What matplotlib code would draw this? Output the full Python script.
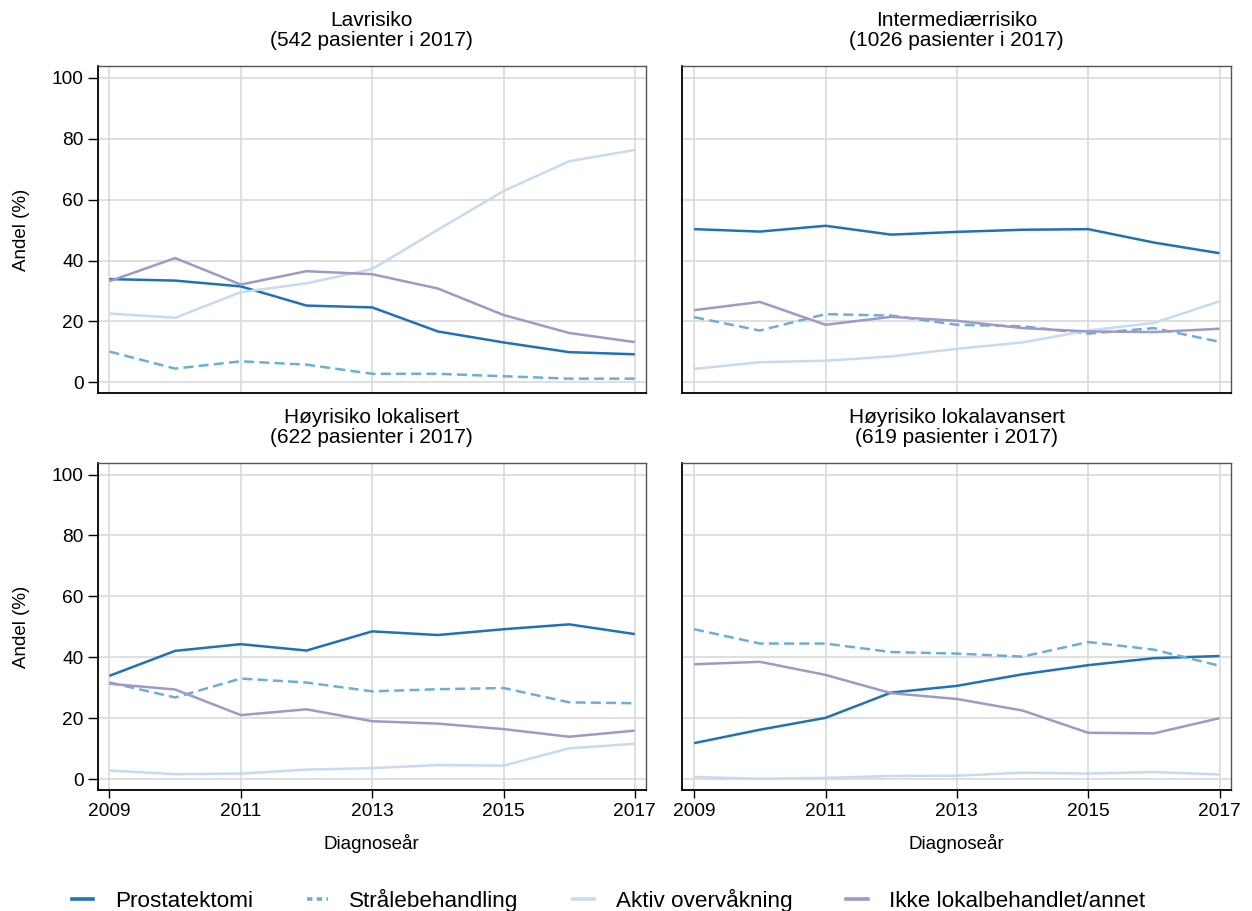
import matplotlib
matplotlib.use("Agg")
import matplotlib.pyplot as plt
from matplotlib.lines import Line2D

plt.rcParams['font.family'] = ['Liberation Sans', 'DejaVu Sans']

years = [2009, 2010, 2011, 2012, 2013, 2014, 2015, 2016, 2017]

treatments = ["Prostatektomi", "Strålebehandling", "Aktiv overvåkning",
              "Ikke lokalbehandlet/annet"]

panel_titles = [
    "Lavrisiko\n(542 pasienter i 2017)",
    "Intermediærrisiko\n(1026 pasienter i 2017)",
    "Høyrisiko lokalisert\n(622 pasienter i 2017)",
    "Høyrisiko lokalavansert\n(619 pasienter i 2017)",
]

# Share (%) per treatment, one list per risk group
lav_prostatektomi = [33.9, 33.4, 31.5, 25.2, 24.6, 16.7, 13.1, 9.9, 9.2]
lav_straale = [10.1, 4.5, 6.9, 5.8, 2.8, 2.8, 2.0, 1.2, 1.2]
lav_aktiv = [22.6, 21.2, 29.6, 32.5, 37.2, 50.1, 62.8, 72.6, 76.3]
lav_ikke = [33.2, 40.8, 32.1, 36.5, 35.5, 30.8, 22.1, 16.2, 13.2]

int_prostatektomi = [50.3, 49.5, 51.4, 48.5, 49.4, 50.1, 50.3, 45.9, 42.4]
int_straale = [21.4, 17.0, 22.4, 21.9, 18.9, 18.4, 16.0, 17.8, 13.3]
int_aktiv = [4.4, 6.6, 7.1, 8.5, 11.0, 13.1, 17.0, 19.5, 26.6]
int_ikke = [23.7, 26.4, 18.9, 21.5, 20.2, 17.8, 16.7, 16.5, 17.6]

hl_prostatektomi = [33.9, 42.1, 44.3, 42.2, 48.5, 47.3, 49.2, 50.8, 47.6]
hl_straale = [31.7, 26.8, 33.0, 31.7, 28.8, 29.5, 29.9, 25.2, 24.9]
hl_aktiv = [2.8, 1.6, 1.8, 3.1, 3.6, 4.6, 4.4, 10.1, 11.6]
hl_ikke = [31.3, 29.4, 21.0, 22.9, 19.0, 18.2, 16.4, 13.9, 15.9]

hla_prostatektomi = [11.8, 16.2, 20.1, 28.4, 30.6, 34.4, 37.4, 39.7, 40.4]
hla_straale = [49.2, 44.5, 44.5, 41.7, 41.2, 40.2, 45.0, 42.5, 37.2]
hla_aktiv = [0.7, 0.1, 0.4, 1.0, 1.1, 2.1, 1.8, 2.3, 1.5]
hla_ikke = [37.7, 38.5, 34.2, 28.2, 26.3, 22.5, 15.2, 15.0, 20.0]

panels = [
    [lav_prostatektomi, lav_straale, lav_aktiv, lav_ikke],
    [int_prostatektomi, int_straale, int_aktiv, int_ikke],
    [hl_prostatektomi, hl_straale, hl_aktiv, hl_ikke],
    [hla_prostatektomi, hla_straale, hla_aktiv, hla_ikke],
]

colors = ["#2171b5", "#6baed6", "#c6dbef", "#9e9ac8"]
styles = ["-", (0, (4.0, 2.1)), "-", "-"]
lw = 1.8

fig = plt.figure(figsize=(12.52, 9.11), dpi=100)

lefts = [0.0780, 0.5450]
width = 0.4380
bottoms = [0.5683, 0.1328]
height = 0.3590

for i in range(4):
    r, c = divmod(i, 2)
    ax = fig.add_axes([lefts[c], bottoms[r], width, height])
    for series, col, ls, name in zip(panels[i], colors, styles, treatments):
        ax.plot(years, series, color=col, linestyle=ls, lw=lw, label=name,
                solid_capstyle='butt', dash_capstyle='butt', zorder=3)
    ax.set_xlim(2008.82, 2017.17)
    ax.set_ylim(-3.6, 103.8)
    ax.set_xticks([2009, 2011, 2013, 2015, 2017])
    ax.set_yticks([0, 20, 40, 60, 80, 100])
    ax.grid(True, color="#dcdcdc", lw=1.3, zorder=0)
    ax.set_axisbelow(True)
    for side in ("left", "bottom"):
        ax.spines[side].set_color("black")
        ax.spines[side].set_linewidth(1.3)
    for side in ("top", "right"):
        ax.spines[side].set_color("#555555")
        ax.spines[side].set_linewidth(1.0)
    ax.tick_params(axis="both", labelsize=13.8, colors="black", width=1.0,
                   length=7, pad=3, direction="out")
    if c == 1:
        ax.tick_params(axis="y", left=False, labelleft=False)
    else:
        ax.set_ylabel("Andel (%)", fontsize=13.5, labelpad=16)
    if r == 0:
        ax.tick_params(axis="x", bottom=False, labelbottom=False)
    else:
        ax.tick_params(axis="x", length=6, pad=3)
        ax.set_xlabel("Diagnoseår", fontsize=13.5, labelpad=10.5)
    ax.set_title(panel_titles[i], fontsize=15, pad=14.5, linespacing=1.05)

handles = [Line2D([0], [0], color=col, lw=2.6, linestyle=ls)
           for col, ls in zip(colors, ["-", (0, (1.5, 1.2)), "-", "-"])]
fig.legend(handles, treatments, loc="lower center", ncol=4, frameon=False,
           fontsize=16.2, bbox_to_anchor=(0.486, -0.023), handlelength=0.95,
           columnspacing=2.4, handletextpad=0.95)

fig.savefig("out.png", dpi=100)
